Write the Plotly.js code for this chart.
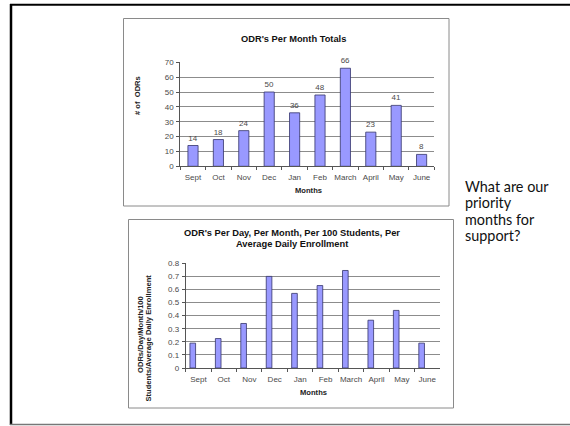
<!DOCTYPE html>
<html>
<head>
<meta charset="utf-8">
<script src="https://cdn.plot.ly/plotly-3.0.1.min.js"></script>
<style>
  html, body { margin: 0; padding: 0; background: #ffffff; }
  #slide { width: 570px; height: 426px; }
</style>
</head>
<body>
<div id="slide"></div>
<script>
// Office discipline referrals by school month
const months = ['Sept', 'Oct', 'Nov', 'Dec', 'Jan', 'Feb', 'March', 'April', 'May', 'June'];
const odrTotals = [14, 18, 24, 50, 36, 48, 66, 23, 41, 8];
const odrRates = [0.19, 0.225, 0.34, 0.70, 0.57, 0.63, 0.745, 0.365, 0.44, 0.19];

const topTitle = "ODR's Per Month Totals";
const bottomTitle = ["ODR's Per Day, Per Month, Per 100 Students, Per", "Average Daily Enrollment"];
const topYTitle = "# of  ODRs";
const bottomYTitle = ["ODRs/Day/Month/100", "Students/Average Daily Enrollment"];
const xTitle = "Months";
const sideNote = ["What are our", "priority", "months for", "support?"];

const W = 570, H = 426;
const px = x => x / W;          // pixel -> paper x
const py = y => 1 - y / H;      // pixel -> paper y

const FONT = 'Arial, "Liberation Sans", sans-serif';
const BAR_FILL = '#9999ff';
const BAR_EDGE = '#33336b';
const GRID = '#8c8c8c';
const AXIS = '#555555';
const TICK_TEXT = '#4a4a4a';

const totalsTrace = {
  type: 'bar', x: months, y: odrTotals, xaxis: 'x', yaxis: 'y',
  width: 0.4,
  marker: { color: BAR_FILL, line: { color: BAR_EDGE, width: 0.8 } },
  text: odrTotals.map(String), textposition: 'outside', cliponaxis: false,
  textfont: { family: FONT, size: 8, color: '#4a4a4a' },
  hoverinfo: 'x+y'
};

const ratesTrace = {
  type: 'bar', x: months, y: odrRates, xaxis: 'x2', yaxis: 'y2',
  width: 0.222, offset: -0.333,
  marker: { color: BAR_FILL, line: { color: BAR_EDGE, width: 0.8 } },
  hoverinfo: 'x+y'
};

function catAxis(domain, anchor) {
  return {
    domain: domain, anchor: anchor, type: 'category',
    showgrid: false, showline: true, linecolor: AXIS, linewidth: 1,
    ticks: 'outside', tickson: 'boundaries', ticklen: 3, tickcolor: AXIS,
    tickangle: 0, ticklabelstandoff: 3,
    tickfont: { family: FONT, size: 8, color: TICK_TEXT },
    fixedrange: true, zeroline: false
  };
}
function valAxis(domain, anchor, range, dtick) {
  return {
    domain: domain, anchor: anchor, range: range, dtick: dtick,
    showgrid: true, gridcolor: GRID, gridwidth: 1,
    showline: true, linecolor: AXIS, linewidth: 1, zeroline: false,
    ticks: 'outside', ticklen: 3, tickcolor: AXIS, ticklabelstandoff: 1,
    tickfont: { family: FONT, size: 8, color: TICK_TEXT },
    fixedrange: true
  };
}

const layout = {
  width: W, height: H,
  margin: { l: 0, r: 0, t: 0, b: 0 },
  paper_bgcolor: '#ffffff', plot_bgcolor: '#ffffff',
  showlegend: false,
  bargap: 0.6,
  xaxis: catAxis([px(180.3), px(434.3)], 'y'),
  yaxis: valAxis([py(166.3), py(62.3)], 'x', [0, 70], 10),
  xaxis2: catAxis([px(185.7), px(440)], 'y2'),
  yaxis2: valAxis([py(368), py(263.3)], 'x2', [0, 0.8], 0.1),
  shapes: [
    // slide frame
    { type: 'line', xref: 'paper', yref: 'paper', x0: px(10), x1: px(570), y0: py(4.7), y1: py(4.7),
      line: { color: '#000', width: 2 } },
    { type: 'line', xref: 'paper', yref: 'paper', x0: px(11), x1: px(11), y0: py(4), y1: py(425),
      line: { color: '#000', width: 2.5 } },
    { type: 'line', xref: 'paper', yref: 'paper', x0: px(10), x1: px(570), y0: py(424.5), y1: py(424.5),
      line: { color: '#777', width: 1.5 } },
    // chart panels
    { type: 'rect', xref: 'paper', yref: 'paper', x0: px(123.5), x1: px(449), y0: py(206), y1: py(18.5),
      line: { color: '#8a8a8a', width: 1 } },
    { type: 'rect', xref: 'paper', yref: 'paper', x0: px(128.5), x1: px(453.5), y0: py(408), y1: py(219.5),
      line: { color: '#8a8a8a', width: 1 } }
  ],
  annotations: [
    { text: '<b>' + topTitle + '</b>', xref: 'paper', yref: 'paper', x: px(293), y: py(38.7),
      xanchor: 'center', yanchor: 'middle', showarrow: false,
      font: { family: FONT, size: 9.3, color: '#111' } },
    { text: '<b>' + bottomTitle[0] + '</b>', xref: 'paper', yref: 'paper', x: px(292), y: py(232.7),
      xanchor: 'center', yanchor: 'middle', showarrow: false,
      font: { family: FONT, size: 9.3, color: '#111' } },
    { text: '<b>' + bottomTitle[1] + '</b>', xref: 'paper', yref: 'paper', x: px(292), y: py(243.7),
      xanchor: 'center', yanchor: 'middle', showarrow: false,
      font: { family: FONT, size: 9.3, color: '#111' } },
    { text: '<b>' + xTitle + '</b>', xref: 'paper', yref: 'paper', x: px(308.5), y: py(190.7),
      xanchor: 'center', yanchor: 'middle', showarrow: false,
      font: { family: FONT, size: 7.6, color: '#222' } },
    { text: '<b>' + xTitle + '</b>', xref: 'paper', yref: 'paper', x: px(313.5), y: py(392),
      xanchor: 'center', yanchor: 'middle', showarrow: false,
      font: { family: FONT, size: 7.6, color: '#222' } },
    { text: '<b>' + topYTitle + '</b>', xref: 'paper', yref: 'paper', x: px(137.5), y: py(95.5),
      xanchor: 'center', yanchor: 'middle', showarrow: false, textangle: -90,
      font: { family: FONT, size: 7.6, color: '#222' } },
    { text: '<b>' + bottomYTitle[0] + '</b>', xref: 'paper', yref: 'paper', x: px(140), y: py(335),
      xanchor: 'center', yanchor: 'middle', showarrow: false, textangle: -90,
      font: { family: FONT, size: 7.6, color: '#222' } },
    { text: '<b>' + bottomYTitle[1] + '</b>', xref: 'paper', yref: 'paper', x: px(147.5), y: py(338),
      xanchor: 'center', yanchor: 'middle', showarrow: false, textangle: -90,
      font: { family: FONT, size: 7.6, color: '#222' } }
  ].concat(sideNote.map((line, i) => ({
    text: line, xref: 'paper', yref: 'paper', x: px(463), y: py(186 + i * 16.6),
    xanchor: 'left', yanchor: 'middle', showarrow: false,
    font: { family: 'Lato, "Open Sans", sans-serif', size: 14.4, color: '#111' }
  })))
};

Plotly.newPlot('slide', [totalsTrace, ratesTrace], layout, { staticPlot: true, displayModeBar: false });
</script>
</body>
</html>
